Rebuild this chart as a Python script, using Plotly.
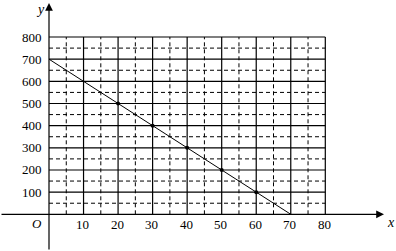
import plotly.graph_objects as go

# data
line_x = [0, 70]
line_y = [700, 0]
pts_x = [20, 30, 40, 50, 60]
pts_y = [500, 400, 300, 200, 100]
x_ticks = [10, 20, 30, 40, 50, 60, 70, 80]
y_ticks = [100, 200, 300, 400, 500, 600, 700, 800]
x_minor = [5, 15, 25, 35, 45, 55, 65, 75]
y_minor = [50, 150, 250, 350, 450, 550, 650, 750]

W, H = 396, 251
X0PX, XSC = 49.0, 3.4538   # px of x=0, px per unit
Y0PX, YSC = 214.3, 0.2216  # px of y=0, px per unit
xr = [-X0PX / XSC, (W - X0PX) / XSC]
yr = [-(H - Y0PX) / YSC, Y0PX / YSC]

serif = "Liberation Serif"
fig = go.Figure()

shapes = []
# grid
for v in x_minor:
    shapes.append(dict(type="line", x0=v, x1=v, y0=0, y1=800, xref="x", yref="y",
                       line=dict(color="black", width=1, dash="4px,3px"), layer="below"))
for v in y_minor:
    shapes.append(dict(type="line", x0=0, x1=80, y0=v, y1=v, xref="x", yref="y",
                       line=dict(color="black", width=1, dash="4px,3px"), layer="below"))
for v in x_ticks:
    shapes.append(dict(type="line", x0=v, x1=v, y0=0, y1=800, xref="x", yref="y",
                       line=dict(color="black", width=1.2), layer="below"))
for v in y_ticks:
    shapes.append(dict(type="line", x0=0, x1=80, y0=v, y1=v, xref="x", yref="y",
                       line=dict(color="black", width=1.2), layer="below"))

fig.add_trace(go.Scatter(x=line_x, y=line_y, mode="lines",
                         line=dict(color="black", width=1), hoverinfo="skip"))
fig.add_trace(go.Scatter(x=pts_x, y=pts_y, mode="markers",
                         marker=dict(color="black", size=4), hoverinfo="skip"))

ann = []
# axes with arrows
ann.append(dict(x=(384 - X0PX) / XSC, y=0, ax=xr[0], ay=0, xref="x", yref="y",
                axref="x", ayref="y", showarrow=True, arrowhead=2, arrowsize=1.3,
                arrowwidth=1.2, arrowcolor="black", text=""))
ann.append(dict(x=0, y=(Y0PX - 3) / YSC, ax=0, ay=yr[0], xref="x", yref="y",
                axref="x", ayref="y", showarrow=True, arrowhead=2, arrowsize=1.3,
                arrowwidth=1.2, arrowcolor="black", text=""))
for v in x_ticks:
    ann.append(dict(x=v, y=0, xref="x", yref="y", text=str(v), showarrow=False,
                    xanchor="center", yanchor="middle", xshift=-1, yshift=-10,
                    font=dict(family=serif, size=13, color="black")))
for v in y_ticks:
    ann.append(dict(x=0, y=v, xref="x", yref="y", text=str(v), showarrow=False,
                    xanchor="right", yanchor="middle", xshift=-5,
                    font=dict(family=serif, size=13, color="black")))
ann.append(dict(x=0, y=0, xref="x", yref="y", text="<i>O</i>", showarrow=False,
                xanchor="center", yanchor="middle", xshift=-12, yshift=-9,
                font=dict(family=serif, size=13, color="black")))
ann.append(dict(x=(391 - X0PX) / XSC, y=0, xref="x", yref="y", text="<i>x</i>",
                showarrow=False, xanchor="center", yanchor="middle", yshift=-8,
                font=dict(family=serif, size=14, color="black")))
ann.append(dict(x=0, y=yr[1], xref="x", yref="y", text="<i>y</i>",
                showarrow=False, xanchor="center", yanchor="top", xshift=-9,
                font=dict(family=serif, size=14, color="black")))

fig.update_layout(
    width=W, height=H, margin=dict(l=0, r=0, t=0, b=0),
    paper_bgcolor="white", plot_bgcolor="white", showlegend=False,
    xaxis=dict(range=xr, visible=False, fixedrange=True),
    yaxis=dict(range=yr, visible=False, fixedrange=True),
    shapes=shapes, annotations=ann,
)
fig.write_html("out.html", config={"displayModeBar": False})
